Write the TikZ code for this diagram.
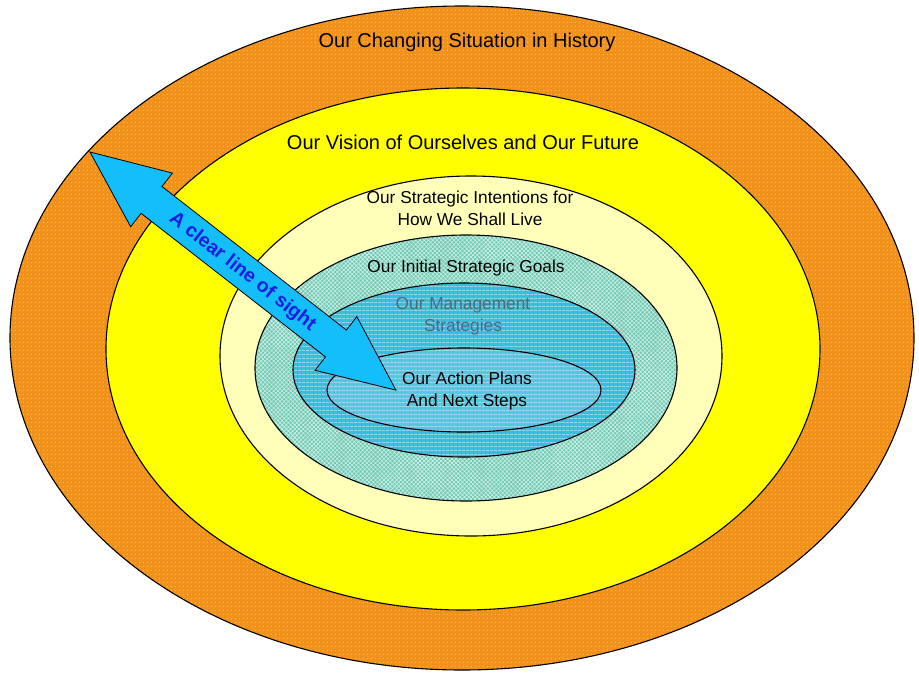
\documentclass[tikz,border=0pt]{standalone}
\usepackage{fontspec}
\setmainfont{Liberation Sans}
\usetikzlibrary{patterns.meta,calc}
\definecolor{orng}{RGB}{240,146,28}
\definecolor{orngdot}{RGB}{255,228,170}
\definecolor{yel}{RGB}{255,255,0}
\definecolor{paleyel}{RGB}{255,255,185}
\definecolor{teal1}{RGB}{115,200,178}
\definecolor{teal2}{RGB}{205,242,232}
\definecolor{cyan1}{RGB}{55,190,218}
\definecolor{cyan2}{RGB}{185,236,246}
\definecolor{arrowblue}{RGB}{20,190,250}
\definecolor{labelblue}{RGB}{25,30,225}
\definecolor{greytext}{RGB}{70,110,130}
\tikzset{
  ring/.style={draw=black, line width=1.1pt},
  bigtitle/.style={font=\fontsize{20}{22}\selectfont, text=black, inner sep=0pt, align=center},
  smalltitle/.style={font=\fontsize{17.3}{22}\selectfont, text=black, inner sep=0pt, align=center},
}
\begin{document}
\begin{tikzpicture}[x=1pt,y=-1pt]
\useasboundingbox[fill=white] (0,0) rectangle (919,673);
% outer orange
\fill[orng] (462,338) ellipse [x radius=452pt, y radius=332pt];
\fill[pattern={Dots[radius=0.55pt, distance=4pt]}, pattern color=orngdot] (462,338) ellipse [x radius=452pt, y radius=332pt];
\draw[ring] (462,338) ellipse [x radius=452pt, y radius=332pt];
% yellow
\filldraw[ring, fill=yel] (463,349) ellipse [x radius=357pt, y radius=261pt];
% pale yellow
\filldraw[ring, fill=paleyel] (471,356) ellipse [x radius=251pt, y radius=180pt];
% teal check
\fill[teal1] (466,368) ellipse [x radius=211pt, y radius=133pt];
\fill[pattern={Hatch[distance=3pt, line width=0.6pt, angle=45]}, pattern color=teal2] (466,368) ellipse [x radius=211pt, y radius=133pt];
\draw[ring] (466,368) ellipse [x radius=211pt, y radius=133pt];
% management cyan
\fill[cyan1] (464,370) ellipse [x radius=171pt, y radius=87pt];
\fill[pattern={Lines[distance=4pt, line width=0.8pt, angle=0]}, pattern color=cyan2] (464,370) ellipse [x radius=171pt, y radius=87pt];
\draw[ring] (464,370) ellipse [x radius=171pt, y radius=87pt];
% action plans
\fill[cyan1!85!white] (464,390) ellipse [x radius=137pt, y radius=42pt];
\fill[pattern={Lines[distance=4pt, line width=0.8pt, angle=0]}, pattern color=cyan2] (464,390) ellipse [x radius=137pt, y radius=42pt];
\draw[ring] (464,390) ellipse [x radius=137pt, y radius=42pt];

% texts
\node[bigtitle] (hist) at (467,42) {Our Changing Situation in History};
\node[bigtitle] (vision) at (463,142) {Our Vision of Ourselves and Our Future};
\node[smalltitle] (intent) at (470,208) {Our Strategic Intentions for\\How We Shall Live};
\node[smalltitle] (goals) at (466,268) {Our Initial Strategic Goals};
\node[smalltitle, text=greytext] (mgmt) at (463,316) {Our Management\\Strategies};
\node[smalltitle] (action) at (467,391) {Our Action Plans\\And Next Steps};

% double block arrow
\coordinate (arrA) at (90,152);
\coordinate (arrB) at (396,390);
\begin{scope}[shift={(arrA)}, rotate=-37.9]
\filldraw[fill=arrowblue, draw=black, line width=0.8pt]
  (0,0) -- (78,34) -- (78,17) -- (311.7,17) -- (311.7,34) -- (387.7,0)
  -- (311.7,-34) -- (311.7,-17) -- (78,-17) -- (78,-34) -- cycle;
\node[transform shape, font=\bfseries\fontsize{19.5}{20}\selectfont, text=labelblue, inner sep=0pt] (sight) at (194,1) {A clear line of sight};
\end{scope}
\end{tikzpicture}
\end{document}
